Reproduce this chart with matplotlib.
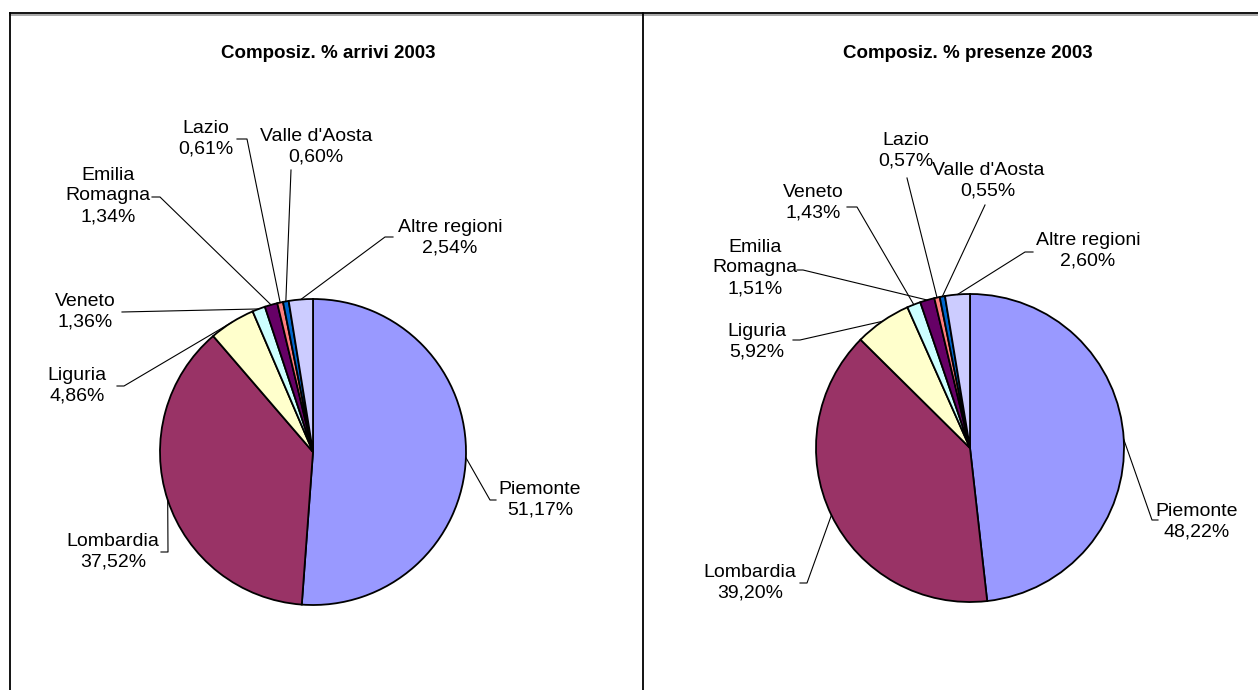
import numpy as np
import matplotlib.pyplot as plt

plt.rcParams['font.family'] = ['Liberation Sans', 'DejaVu Sans']

W, H = 1258, 690

regions = ["Piemonte", "Lombardia", "Liguria", "Veneto", "Emilia\nRomagna",
           "Lazio", "Valle d'Aosta", "Altre regioni"]
arrivi = [51.17, 37.52, 4.86, 1.36, 1.34, 0.61, 0.60, 2.54]
presenze = [48.22, 39.20, 5.92, 1.43, 1.51, 0.57, 0.55, 2.60]
colors = ["#9999FF", "#993366", "#FFFFCC", "#CCFFFF", "#660066",
          "#FF8080", "#0066CC", "#CCCCFF"]

# layout in pixels: (text x, text y, leader points near the label)
left_labels = [
    (540, 500, [(490, 500), (496, 500)]),
    (113, 552, [(168, 552), (161, 552)]),
    (77, 386, [(124, 386), (117, 386)]),
    (85, 312, [(122, 312)]),
    (108, 196, [(160, 197), (152, 197)]),
    (206, 139, [(247, 139), (237, 139)]),
    (316, 147, [(291, 170)]),
    (450, 238, [(385, 237), (393, 237)]),
]
right_labels = [
    (1197, 522, [(1152, 520), (1158, 520)]),
    (750, 583, [(807, 583), (800, 583)]),
    (757, 342, [(800, 340), (793, 340)]),
    (813, 203, [(857, 207), (847, 207)]),
    (755, 268, [(803, 270), (797, 270)]),
    (906, 151, [(907, 178)]),
    (988, 181, [(985, 205)]),
    (1088, 251, [(1025, 252), (1033, 252)]),
]


def fmt(v):
    return f"{v:.2f}%".replace(".", ",")


def draw_pie(ax, values, cx, cy, r, title, tx, labels):
    ax.pie(values, colors=colors, startangle=-90, counterclock=True,
           center=(cx, cy), radius=r,
           wedgeprops=dict(edgecolor="black", linewidth=1.3))
    ax.text(tx, 53, title, ha="center", va="center", fontsize=13.5,
            fontweight="bold")
    total = sum(values)
    cum = 0
    for name, v, (x, y, pts) in zip(regions, values, labels):
        theta = np.deg2rad(-90 + 360 * (cum + v / 2) / total)
        cum += v
        ax_, ay_ = cx + r * np.cos(theta), cy + r * np.sin(theta)
        xs = [ax_] + [p[0] for p in pts]
        ys = [ay_] + [p[1] for p in pts]
        ax.plot(xs, ys, color="black", lw=0.8)
        ax.text(x, y, name + "\n" + fmt(v), ha="center", va="center",
                fontsize=14, linespacing=1.3)


fig = plt.figure(figsize=(W / 100, H / 100), dpi=100)
ax = fig.add_axes([0, 0, 1, 1])

draw_pie(ax, arrivi, 313, 452, 153, "Composiz. % arrivi 2003", 328, left_labels)
draw_pie(ax, presenze, 970, 448, 154, "Composiz. % presenze 2003", 968, right_labels)

# panel borders
ax.plot([10, W], [15, 15], color="#999999", lw=1.2)
ax.plot([10, W], [13, 13], color="black", lw=1.3)
ax.plot([10, 10], [13, H], color="black", lw=1.3)
ax.plot([643, 643], [13, H], color="black", lw=1.3)

ax.set_xlim(0, W)
ax.set_ylim(H, 0)
ax.set_aspect("auto")
ax.axis("off")

fig.savefig("out.png", dpi=100)
